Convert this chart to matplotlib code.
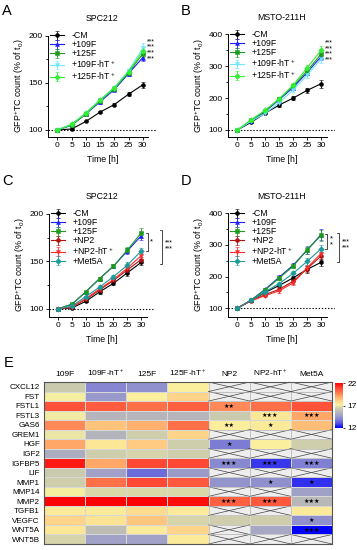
import numpy as np
import matplotlib
matplotlib.use("Agg")
import matplotlib.pyplot as plt
from matplotlib.colors import LinearSegmentedColormap

plt.rcParams['font.family'] = ['Liberation Sans', 'DejaVu Sans']
plt.rcParams['mathtext.fontset'] = 'custom'
plt.rcParams['mathtext.rm'] = 'Liberation Sans'
plt.rcParams['mathtext.it'] = 'Liberation Sans:italic'
plt.rcParams['axes.linewidth'] = 0.7

# ---------------- data ----------------
time = [0, 5, 10, 15, 20, 25, 30]

# Panel A (SPC212)
a_labels = ["-CM", "+109F", "+125F", "+109F-hT$^+$", "+125F-hT$^+$"]
a_vals = [
    [100, 101, 109, 119, 127, 138, 148],
    [100, 105, 117, 130, 143, 160, 177],
    [100, 105, 117, 131, 144, 161, 181],
    [100, 106, 118, 132, 145, 163, 187],
    [100, 106, 118, 132, 145, 162, 184],
]
a_err = [
    [0.5, 1, 1, 1, 2, 2, 3],
    [0.5, 1, 1, 2, 2, 3, 4],
    [0.5, 1, 1, 2, 2, 3, 3],
    [0.5, 1, 1, 2, 2, 3, 6],
    [0.5, 1, 1, 2, 2, 3, 4],
]
# Panel B (MSTO-211H)
b_vals = [
    [100, 124, 153, 178, 200, 224, 245],
    [100, 128, 158, 195, 233, 280, 330],
    [100, 130, 160, 197, 238, 285, 338],
    [100, 128, 152, 186, 225, 272, 322],
    [100, 132, 162, 198, 240, 295, 350],
]
b_err = [
    [1, 3, 4, 5, 7, 9, 12],
    [1, 3, 4, 5, 7, 9, 12],
    [1, 3, 4, 5, 7, 9, 12],
    [1, 3, 4, 5, 7, 9, 12],
    [1, 3, 4, 5, 7, 9, 12],
]
# Panel C (SPC212)
c_labels = ["-CM", "+109F", "+125F", "+NP2", "+NP2-hT$^+$", "+Met5A"]
c_vals = [
    [100, 101, 108, 118, 127, 138, 149],
    [100, 105, 118, 132, 145, 161, 177],
    [100, 105, 118, 132, 145, 162, 180],
    [100, 102, 110, 120, 130, 141, 152],
    [100, 102, 111, 121, 131, 143, 156],
    [100, 103, 113, 123, 134, 146, 161],
]
c_err = [
    [0.5, 1, 1, 2, 2, 3, 3],
    [0.5, 1, 1, 2, 2, 3, 4],
    [0.5, 1, 1, 2, 2, 3, 5],
    [0.5, 1, 1, 2, 2, 3, 3],
    [0.5, 1, 1, 2, 2, 3, 3],
    [0.5, 1, 1, 2, 2, 3, 3],
]
# Panel D (MSTO-211H)
d_vals = [
    [100, 125, 150, 172, 196, 223, 245],
    [100, 126, 160, 198, 236, 283, 333],
    [100, 126, 158, 195, 233, 285, 330],
    [100, 124, 143, 160, 185, 225, 265],
    [100, 124, 140, 155, 180, 228, 273],
    [100, 125, 152, 178, 210, 248, 288],
]
d_err = [
    [1, 3, 4, 6, 7, 10, 12],
    [1, 3, 4, 6, 7, 12, 18],
    [1, 3, 4, 6, 7, 12, 18],
    [1, 3, 4, 6, 7, 10, 12],
    [1, 3, 4, 6, 7, 10, 12],
    [1, 3, 4, 6, 7, 10, 12],
]

ab_colors = ["#000000", "#1c1cff", "#1e9a1e", "#6ee8ff", "#33ee33"]
ab_markers = ["o", "^", "s", "v", "D"]
cd_colors = ["#000000", "#1c1cff", "#1e9a1e", "#b01212", "#ff2a2a", "#1a9a9a"]
cd_markers = ["o", "^", "s", "o", "v", "D"]

# Panel E heatmap
genes = ["CXCL12", "FST", "FSTL1", "FSTL3", "GAS6", "GREM1", "HGF", "IGF2",
         "IGFBP5", "LIF", "MMP1", "MMP14", "MMP2", "TGFB1", "VEGFC", "WNT5A", "WNT5B"]
cell_lines = ["109F", "109F-hT$^+$", "125F", "125F-hT$^+$", "NP2", "NP2-hT$^+$", "Met5A"]
nan = np.nan
expr = [
    [16.2, 14.0, 14.3, 17.3, nan, nan, nan],
    [17.1, 14.5, 17.3, 18.0, nan, nan, nan],
    [20.6, 20.4, 20.0, 20.3, 19.5, 20.0, 20.6],
    [17.0, 15.5, 15.5, 15.5, 16.2, 17.5, 19.0],
    [19.5, 18.4, 18.8, 20.0, 17.3, 17.4, 18.5],
    [16.9, 15.4, 16.3, 18.0, nan, nan, nan],
    [19.0, 17.5, 18.2, 16.3, 13.8, 17.3, 16.3],
    [15.2, 16.3, 16.5, 16.3, nan, nan, nan],
    [21.6, 19.0, 20.8, 20.8, 14.1, 12.7, 13.9],
    [16.2, 14.8, 13.5, 14.6, nan, nan, nan],
    [16.3, 20.0, 20.8, 20.5, 14.4, 14.3, 12.6],
    [17.1, 16.6, 16.6, 16.6, nan, nan, 14.8],
    [22.0, 22.0, 22.0, 21.8, 20.3, 20.5, 15.6],
    [17.4, 17.4, 17.8, 17.4, nan, nan, 17.4],
    [18.0, 17.6, 18.3, 16.5, 16.3, 16.3, 14.3],
    [17.5, 15.8, 17.4, 18.0, nan, 15.0, 12.0],
    [16.5, 14.8, 14.8, 17.4, nan, nan, nan],
]
sig = [
    ("FSTL1", 4, "**"),
    ("FSTL3", 5, "***"), ("FSTL3", 6, "***"),
    ("GAS6", 4, "**"), ("GAS6", 5, "*"),
    ("HGF", 4, "*"),
    ("IGFBP5", 4, "***"), ("IGFBP5", 5, "***"), ("IGFBP5", 6, "***"),
    ("MMP1", 5, "*"), ("MMP1", 6, "*"),
    ("MMP2", 4, "***"), ("MMP2", 5, "***"), ("MMP2", 6, "***"),
    ("VEGFC", 6, "*"),
    ("WNT5A", 6, "***"),
]

# ---------------- figure ----------------
W, H = 357, 550
fig = plt.figure(figsize=(W / 100, H / 100), dpi=100)


def px_axes(l, t, r, b):
    return fig.add_axes([l / W, 1 - b / H, (r - l) / W, (b - t) / H])


FS = 6.0


def growth_panel(ax, vals, errs, labels, colors, markers, ylim, major, minor, title):
    for v, e, lab, c, m in zip(vals, errs, labels, colors, markers):
        ax.errorbar(time, v, yerr=e, color=c, marker=m, ms=2.8, lw=0.8,
                    elinewidth=0.6, capsize=1.3, capthick=0.6, label=lab,
                    markeredgewidth=0.4, clip_on=False, zorder=3)
    ax.axhline(100, color="black", ls=(0, (1.2, 1.6)), lw=0.8, zorder=1)
    ax.set_xlim(-3.3, 35)
    ax.set_ylim(*ylim)
    ax.spines["top"].set_visible(False)
    ax.spines["right"].set_visible(False)
    ax.spines["bottom"].set_bounds(-3.3, 32)
    ax.spines["left"].set_bounds(ylim[0], major[-1])
    ax.set_xticks(time)
    ax.set_yticks(major)
    ax.set_yticks(minor, minor=True)
    ax.tick_params(labelsize=FS, length=2.3, width=0.6, pad=1.5)
    ax.tick_params(which="minor", length=1.5, width=0.6)
    ax.set_xlabel("Time [h]", fontsize=6.3, labelpad=4)
    ax.set_ylabel("GFP$^{+}$TC count (% of t$_0$)", fontsize=6.4, labelpad=2)
    ax.set_title(title, fontsize=6.3, pad=10)
    leg = ax.legend(loc="upper left", bbox_to_anchor=(-0.015, 1.07), fontsize=6.3,
                    frameon=False, handlelength=1.6, handletextpad=0.85,
                    labelspacing=0.0, borderaxespad=0.0)
    return leg


axA = px_axes(48, 35, 157, 137)
growth_panel(axA, a_vals, a_err, a_labels, ab_colors, ab_markers,
             (92.5, 201), [100, 150, 200], [125, 175], "SPC212")
axB = px_axes(228, 34, 335, 137)
growth_panel(axB, b_vals, b_err, a_labels, ab_colors, ab_markers,
             (78, 401), [100, 200, 300, 400], [150, 250, 350], "MSTO-211H")
axC = px_axes(49, 213, 155, 317)
growth_panel(axC, c_vals, c_err, c_labels, cd_colors, cd_markers,
             (91.5, 201), [100, 150, 200], [125, 175], "SPC212")
axD = px_axes(228, 213, 335, 317)
growth_panel(axD, d_vals, d_err, c_labels, cd_colors, cd_markers,
             (72.5, 401), [100, 200, 300, 400], [150, 250, 350], "MSTO-211H")

# significance stars A, B (one stacked text each)
axA.text(31.3, 185, "***\n***\n***\n***", fontsize=5, va="center", ha="left",
         linespacing=0.72, clip_on=False)
axB.text(31.3, 346, "***\n***\n***\n***", fontsize=5, va="center", ha="left",
         linespacing=0.72, clip_on=False)


def bracket(ax, x, y0, y1, w):
    ax.plot([x - w, x, x, x - w], [y0, y0, y1, y1], color="black", lw=0.5, clip_on=False)


bracket(axC, 32.5, 161, 180, 0.8)
axC.text(33.3, 170.5, "*", fontsize=5.5, va="center", ha="left")
bracket(axC, 37.5, 147, 183, 0.8)
axC.text(38.6, 166, "***\n***", fontsize=5, va="center", ha="left",
         linespacing=0.85, clip_on=False)

bracket(axD, 32.3, 288, 336, 0.8)
axD.text(33.0, 309, "*\n*", fontsize=5.5, va="center", ha="left",
         linespacing=0.9, clip_on=False)
bracket(axD, 36.5, 245, 338, 0.8)
axD.text(37.4, 300, "***\n***", fontsize=5, va="center", ha="left",
         linespacing=0.85, clip_on=False)

# panel letters
for (x, y, s) in [(2, 4, "A"), (181, 4, "B"), (2, 174, "C"), (181, 174, "D"), (4, 356, "E")]:
    fig.text(x / W, 1 - y / H, s, fontsize=10.5, va="top", ha="left")

# ---------------- heatmap ----------------
cmap = LinearSegmentedColormap.from_list("hm", [
    ((12 - 12) / 10, "#0000ff"),
    ((13 - 12) / 10, "#5252e2"),
    ((14 - 12) / 10, "#8686d2"),
    ((15 - 12) / 10, "#a9a9c4"),
    ((15.8 - 12) / 10, "#bdbdb5"),
    ((16.5 - 12) / 10, "#d4d4aa"),
    ((17.2 - 12) / 10, "#faf2a0"),
    ((18 - 12) / 10, "#ffd488"),
    ((19 - 12) / 10, "#ffa868"),
    ((20 - 12) / 10, "#ff7048"),
    ((21 - 12) / 10, "#ff4030"),
    ((22 - 12) / 10, "#ff0000"),
])
axE = px_axes(44, 382, 332, 544)
data = np.ma.masked_invalid(np.array(expr, dtype=float))
nrow, ncol = data.shape
mesh = axE.pcolormesh(np.arange(ncol + 1), np.arange(nrow + 1), data, cmap=cmap,
                      vmin=12, vmax=22, edgecolors="#d8d8d8", linewidth=0.5)
axE.set_facecolor("#eeeeee")
arr = np.array(expr, dtype=float)
for i in range(nrow):
    for j in range(ncol):
        if np.isnan(arr[i, j]):
            axE.plot([j, j + 1], [i, i + 1], color="#444444", lw=0.5)
            axE.plot([j, j + 1], [i + 1, i], color="#444444", lw=0.5)
            axE.plot([j, j + 1, j + 1, j, j], [i, i, i + 1, i + 1, i], color="#bbbbbb", lw=0.4)
for g, j, s in sig:
    i = genes.index(g)
    axE.text(j + 0.5, i + 0.55, "★" * len(s), fontsize=4.4, ha="center", va="center",
             family=["DejaVu Sans"], color="black")
axE.set_xlim(0, ncol)
axE.set_ylim(nrow, 0)
axE.set_xticks(np.arange(ncol) + 0.5)
axE.set_xticklabels(cell_lines, fontsize=FS)
axE.xaxis.tick_top()
axE.set_yticks(np.arange(nrow) + 0.5)
axE.set_yticklabels(genes, fontsize=5.8)
axE.tick_params(length=0, pad=3)
for sp in axE.spines.values():
    sp.set_color("#555555")
    sp.set_linewidth(0.8)

cax = px_axes(335, 383, 343, 428)
cb = fig.colorbar(mesh, cax=cax, ticks=[12, 17, 22])
cb.outline.set_visible(False)
cb.ax.tick_params(labelsize=FS, length=1.5, width=0.5, pad=1.5)

fig.savefig("out.png", dpi=100)
